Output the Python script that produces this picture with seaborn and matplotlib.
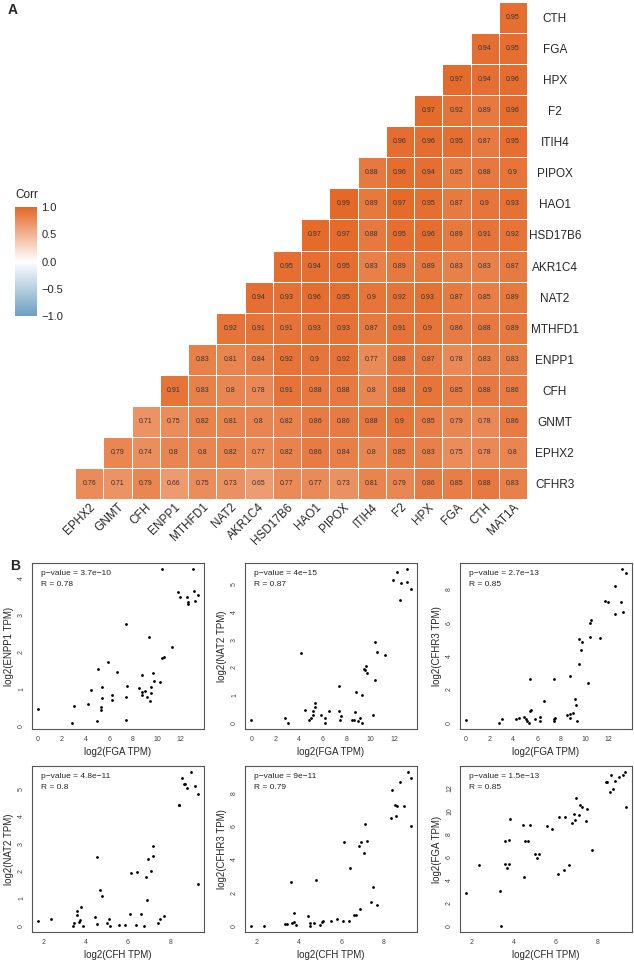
import numpy as np
import pandas as pd
import matplotlib
matplotlib.use("Agg")
import matplotlib.pyplot as plt
import seaborn as sns
from matplotlib.colors import LinearSegmentedColormap
from matplotlib.ticker import MultipleLocator

sns.set_style("white")
plt.rcParams['font.family'] = ['Liberation Sans', 'DejaVu Sans']

# ---- panel A: correlation matrix (lower triangle, rows top -> bottom) ----
rows = ["CTH", "FGA", "HPX", "F2", "ITIH4", "PIPOX", "HAO1", "HSD17B6",
        "AKR1C4", "NAT2", "MTHFD1", "ENPP1", "CFH", "GNMT", "EPHX2", "CFHR3"]
cols = ["EPHX2", "GNMT", "CFH", "ENPP1", "MTHFD1", "NAT2", "AKR1C4", "HSD17B6",
        "HAO1", "PIPOX", "ITIH4", "F2", "HPX", "FGA", "CTH", "MAT1A"]
corr_rows = [
    [0.95],
    [0.94, 0.95],
    [0.97, 0.94, 0.96],
    [0.97, 0.92, 0.89, 0.96],
    [0.96, 0.96, 0.95, 0.87, 0.95],
    [0.88, 0.96, 0.94, 0.85, 0.88, 0.9],
    [0.99, 0.89, 0.97, 0.95, 0.87, 0.9, 0.93],
    [0.97, 0.97, 0.88, 0.95, 0.96, 0.89, 0.91, 0.92],
    [0.95, 0.94, 0.95, 0.83, 0.89, 0.89, 0.83, 0.83, 0.87],
    [0.94, 0.93, 0.96, 0.95, 0.9, 0.92, 0.93, 0.87, 0.85, 0.89],
    [0.92, 0.91, 0.91, 0.93, 0.93, 0.87, 0.91, 0.9, 0.86, 0.88, 0.89],
    [0.83, 0.81, 0.84, 0.92, 0.9, 0.92, 0.77, 0.88, 0.87, 0.78, 0.83, 0.83],
    [0.91, 0.83, 0.8, 0.78, 0.91, 0.88, 0.88, 0.8, 0.88, 0.9, 0.85, 0.88, 0.86],
    [0.71, 0.75, 0.82, 0.81, 0.8, 0.82, 0.86, 0.86, 0.88, 0.9, 0.85, 0.79, 0.78, 0.86],
    [0.79, 0.74, 0.8, 0.8, 0.82, 0.77, 0.82, 0.86, 0.84, 0.8, 0.85, 0.83, 0.75, 0.78, 0.8],
    [0.76, 0.71, 0.79, 0.66, 0.75, 0.73, 0.65, 0.77, 0.77, 0.73, 0.81, 0.79, 0.86, 0.85, 0.88, 0.83],
]

# ---- panel B: scatter data ----
fga_x = [0.03, 2.83, 3.05, 4.23, 4.93, 4.48, 5.07, 5.29, 5.29, 5.38, 5.40, 5.88, 6.25, 6.25, 6.61,
         7.37, 7.37, 7.40, 7.50, 8.46, 8.71, 8.77, 8.77, 8.97, 9.16, 9.30, 9.38, 9.50, 9.50, 9.69,
         9.78, 10.25, 10.45, 10.59, 11.23, 11.74, 11.96, 12.52, 12.58, 12.60, 13.14, 13.19, 13.42,
         10.45, 13.00]
enpp1_y = [0.47, 0.09, 0.55, 0.59, 0.14, 0.99, 1.55, 0.51, 0.45, 1.05, 0.77, 1.74, 0.85, 0.72, 1.47,
           2.77, 0.78, 0.18, 1.08, 1.04, 1.38, 0.92, 0.84, 0.95, 0.79, 2.41, 0.67, 1.05, 0.90, 1.43,
           1.22, 1.20, 1.85, 1.86, 2.14, 3.62, 3.50, 3.50, 3.31, 3.34, 3.65, 3.38, 3.53,
           4.24, 4.24]

fga_x2 = [0.0, 2.79, 3.07, 4.19, 4.46, 4.86, 5.02, 5.19, 5.19, 5.33, 5.33, 5.86, 6.17, 6.17, 6.53,
          7.31, 7.31, 7.40, 7.48, 8.43, 8.60, 8.71, 8.73, 8.93, 9.13, 9.24, 9.29, 9.46, 9.50, 9.63,
          9.71, 10.19, 10.33, 10.36, 10.52, 11.16, 11.86, 12.48, 12.56, 13.06, 13.34, 12.2, 13.0]
nat2_y = [0.09, 0.17, 0.0, 2.53, 0.48, 0.09, 0.17, 0.44, 0.27, 0.59, 0.71, 0.27, 0.17, 0.0, 0.42,
          1.34, 0.42, 0.12, 0.24, 0.09, 0.09, 0.39, 1.10, 0.06, 0.16, 0.99, 0.0, 1.96, 1.92, 2.04,
          1.81, 0.28, 2.92, 1.54, 2.56, 2.44, 5.15, 4.43, 5.04, 5.07, 4.85, 5.45, 5.55]

fga_x3 = [0.08, 2.82, 3.07, 4.24, 4.52, 4.88, 5.08, 5.19, 5.30, 5.36, 5.45, 5.39, 5.86, 6.22, 6.22,
          6.58, 7.37, 7.45, 7.50, 7.37, 8.46, 8.71, 8.74, 8.76, 8.96, 9.16, 9.24, 9.30, 9.49, 9.52,
          9.69, 9.75, 10.22, 10.41, 10.50, 10.38, 11.22, 11.70, 11.95, 12.48, 12.51, 12.98, 13.15,
          13.10, 13.40]
cfhr3_y = [0.20, 0.0, 0.22, 0.26, 0.30, 0.38, 0.26, 0.14, 0.0, 0.70, 0.75, 2.65, 0.26, 0.10, 0.38,
           1.29, 0.10, 0.26, 0.30, 2.65, 0.46, 0.30, 2.80, 0.54, 0.60, 1.43, 1.05, 0.10, 3.54, 5.04,
           4.38, 4.84, 2.39, 5.99, 6.13, 5.12, 5.08, 7.29, 7.21, 8.19, 6.49, 7.25, 6.63,
           9.20, 8.95]

cfh_x4 = [1.75, 2.35, 3.37, 3.45, 3.59, 3.60, 3.67, 3.73, 3.76, 3.85, 4.45, 4.51, 4.55, 4.69, 4.78,
          4.99, 5.08, 5.15, 5.55, 5.84, 6.10, 6.15, 6.39, 6.42, 6.62, 6.75, 6.84, 6.91, 6.95, 7.09,
          7.17, 7.20, 7.44, 7.50, 7.69, 8.40, 8.42, 8.56, 8.64, 8.68, 8.81, 8.98, 9.18, 9.30, 9.30]
nat2_y4 = [0.16, 0.25, 0.0, 0.09, 0.40, 0.56, 0.15, 0.22, 0.69, 0.0, 0.34, 2.51, 0.08, 1.32, 1.08,
           0.12, 0.25, 0.0, 0.04, 0.04, 0.45, 1.92, 0.04, 1.96, 0.45, 0.0, 1.78, 0.96, 2.43, 2.01,
           2.55, 2.92, 0.10, 0.26, 0.37, 4.42, 4.42, 5.40, 5.16, 5.16, 5.04, 5.61, 5.10, 4.82, 1.51]

cfh_x5 = [1.76, 2.36, 3.37, 3.43, 3.62, 3.68, 3.75, 3.78, 3.86, 4.45, 4.52, 4.53, 4.70, 4.80, 5.00,
          5.10, 5.16, 5.54, 5.82, 6.10, 6.15, 6.37, 6.40, 6.60, 6.72, 6.83, 6.89, 6.95, 7.08, 7.14,
          7.20, 7.41, 7.49, 7.71, 8.37, 8.42, 8.54, 8.59, 8.65, 8.79, 8.97, 9.17, 9.28, 9.28]
cfhr3_y5 = [0.0, 0.0, 0.14, 0.14, 2.63, 0.20, 0.24, 0.75, 0.06, 0.57, 0.20, 0.0, 0.20, 2.75, 0.08,
            0.26, 0.32, 0.28, 0.42, 0.28, 5.05, 0.32, 3.50, 0.65, 0.65, 4.81, 1.01, 5.05, 4.36, 6.12,
            5.11, 1.43, 2.34, 1.23, 6.48, 8.20, 7.29, 6.63, 7.23, 8.65, 7.23, 9.25, 8.91, 5.98]

cfh_x6 = [1.76, 2.36, 3.37, 3.42, 3.61, 3.60, 3.69, 3.77, 3.79, 3.85, 4.46, 4.51, 4.54, 4.70, 4.78,
          5.02, 5.10, 5.18, 5.57, 5.84, 6.11, 6.17, 6.39, 6.42, 6.61, 6.76, 6.87, 6.90, 6.96, 7.09,
          7.17, 7.23, 7.43, 7.50, 7.72, 8.40, 8.43, 8.57, 8.62, 8.71, 8.81, 9.00, 9.20, 9.30, 9.31]
fga_y6 = [2.82, 5.26, 3.05, 0.0, 7.35, 5.35, 5.06, 7.47, 5.38, 9.33, 8.75, 4.22, 7.35, 7.35, 8.75,
          6.25, 5.87, 6.22, 8.66, 8.40, 4.48, 9.51, 4.83, 9.48, 5.26, 8.92, 9.77, 9.24, 11.16, 9.68,
          10.52, 10.35, 9.13, 10.20, 6.57, 12.50, 12.50, 11.66, 13.10, 11.92, 12.62, 12.97, 13.08,
          13.37, 10.38]

panels = [
    (fga_x, enpp1_y, "log2(FGA TPM)", "log2(ENPP1 TPM)", "3.7e\u221210", "0.78", 2, 1),
    (fga_x2, nat2_y, "log2(FGA TPM)", "log2(NAT2 TPM)", "4e\u221215", "0.87", 2, 1),
    (fga_x3, cfhr3_y, "log2(FGA TPM)", "log2(CFHR3 TPM)", "2.7e\u221213", "0.85", 2, 2),
    (cfh_x4, nat2_y4, "log2(CFH TPM)", "log2(NAT2 TPM)", "4.8e\u221211", "0.8", 2, 1),
    (cfh_x5, cfhr3_y5, "log2(CFH TPM)", "log2(CFHR3 TPM)", "9e\u221211", "0.79", 2, 2),
    (cfh_x6, fga_y6, "log2(CFH TPM)", "log2(FGA TPM)", "1.5e\u221213", "0.85", 2, 2),
]

W, H = 634, 964
fig = plt.figure(figsize=(W / 100, H / 100), dpi=100)

mat = np.full((len(rows), len(cols)), np.nan)
for i, vals in enumerate(corr_rows):
    mat[i, len(cols) - len(vals):] = vals
df = pd.DataFrame(mat, index=rows, columns=cols)
annot = np.where(np.isnan(mat), "", np.vectorize(lambda v: f"{v:g}")(mat))

cmap = LinearSegmentedColormap.from_list("corr", ["#6D9EC1", "#FFFFFF", "#E46726"])
ax = fig.add_axes([75 / W, 1 - 499 / H, 452 / W, 497 / H])
cax = fig.add_axes([15 / W, 1 - 316 / H, 22 / W, 109 / H])
sns.heatmap(df, mask=np.isnan(mat), cmap=cmap, vmin=-1, vmax=1, annot=annot, fmt="",
            annot_kws={"size": 5, "color": "#333333"}, linewidths=0.4, linecolor="white",
            ax=ax, cbar_ax=cax)
ax.yaxis.tick_right()
ax.tick_params(axis="y", length=0, pad=20, labelsize=8.5)
ax.tick_params(axis="x", length=0, pad=1.5, labelsize=8.5)
for lab in ax.get_yticklabels():
    lab.set_rotation(0)
    lab.set_ha("center")
plt.setp(ax.get_xticklabels(), rotation=45, ha="right", va="top", rotation_mode="anchor")

cbar = ax.collections[0].colorbar
cbar.outline.set_visible(False)
cbar.set_ticks([-1, -0.5, 0, 0.5, 1])
cbar.set_ticklabels(["\u22121.0", "\u22120.5", "0.0", "0.5", "1.0"])
cax.tick_params(length=0, labelsize=8, pad=3)
fig.text(15 / W, 1 - 195 / H, "Corr", fontsize=8.5, va="center", ha="left")

fig.text(8 / W, 1 - 10 / H, "A", fontsize=10, fontweight="bold", va="center")
fig.text(10 / W, 1 - 566 / H, "B", fontsize=10, fontweight="bold", va="center")

lefts = [32, 245, 460]
tops = [563, 766]
for k, (xs, ys, xl, yl, pv, r, xstep, ystep) in enumerate(panels):
    left = lefts[k % 3]
    top = tops[k // 3]
    sax = fig.add_axes([left / W, 1 - (top + 166) / H, 172 / W, 166 / H])
    sns.scatterplot(x=xs, y=ys, s=4, color="black", linewidth=0, ax=sax)
    sax.margins(0.04)
    sax.xaxis.set_major_locator(MultipleLocator(xstep))
    sax.yaxis.set_major_locator(MultipleLocator(ystep))
    sax.set_xlabel(xl, fontsize=7, labelpad=3)
    sax.set_ylabel(yl, fontsize=7, labelpad=3)
    sax.tick_params(length=3, width=0.5, color="#666666", labelsize=5, labelcolor="#444444", pad=2)
    plt.setp(sax.get_yticklabels(), rotation=90, va="center")
    for sp in sax.spines.values():
        sp.set_color("#555555")
        sp.set_linewidth(0.8)
    sax.text(0.053, 0.935, f"p\u2212value = {pv}", transform=sax.transAxes, fontsize=6, va="center")
    sax.text(0.053, 0.873, f"R = {r}", transform=sax.transAxes, fontsize=6, va="center")

fig.savefig("out.png", dpi=100)
